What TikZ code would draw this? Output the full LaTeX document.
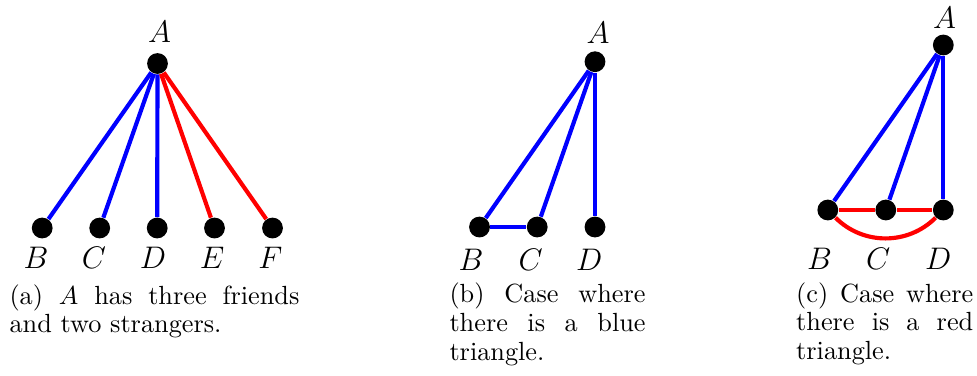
\documentclass[tikz,border=0pt]{standalone}
\hyphenpenalty=10000
\exhyphenpenalty=10000
\tikzset{
  vertex/.style={circle, fill=black, inner sep=0pt, minimum size=8pt},
  blueedge/.style={blue, ultra thick},
  rededge/.style={red, ultra thick},
  vname/.style={anchor=base, inner sep=0pt, font=\large},
  subcap/.style={anchor=base west, inner sep=0pt, align=justify, font=\fontsize{10.1}{11.1}\selectfont}
}

\begin{document}
\begin{tikzpicture}[x=0.3846pt,y=0.3846pt]
\useasboundingbox (0,0) rectangle (977,375);
\node[vertex] (a-A) at (157.5,311.5) {};
\node[vertex] (a-B) at (42.2,147) {};
\node[vertex] (a-C) at (99.7,147) {};
\node[vertex] (a-D) at (157.2,147) {};
\node[vertex] (a-E) at (214.5,147) {};
\node[vertex] (a-F) at (272.5,147) {};
\draw[blueedge] (a-A) -- (a-B);
\draw[blueedge] (a-A) -- (a-C);
\draw[blueedge] (a-A) -- (a-D);
\draw[rededge] (a-A) -- (a-E);
\draw[rededge] (a-A) -- (a-F);
\node[vname] (a-lA) at (159.5,332.5) {$A$};
\node[vname] (a-lB) at (36,106.5) {$B$};
\node[vname] (a-lC) at (94,106.5) {$C$};
\node[vname] (a-lD) at (153,106.5) {$D$};
\node[vname] (a-lE) at (212,106.5) {$E$};
\node[vname] (a-lF) at (270.5,106.5) {$F$};
\node[subcap, text width=111.5pt] (a-cap) at (9,71) {(a) $A$ has three friends and two strangers.};

\node[vertex] (b-A) at (595,313.3) {};
\node[vertex] (b-B) at (479.5,148) {};
\node[vertex] (b-C) at (537.2,148) {};
\node[vertex] (b-D) at (595,148) {};
\draw[blueedge] (b-A) -- (b-B);
\draw[blueedge] (b-A) -- (b-C);
\draw[blueedge] (b-A) -- (b-D);
\draw[blueedge] (b-B) -- (b-C);
\node[vname] (b-lA) at (598,331.7) {$A$};
\node[vname] (b-lB) at (471,105) {$B$};
\node[vname] (b-lC) at (530.7,105) {$C$};
\node[vname] (b-lD) at (589.2,105) {$D$};
\node[subcap, text width=75.4pt] (b-cap) at (449,72.5) {(b) Case where there is a blue triangle.};

\node[vertex] (c-A) at (943.3,330) {};
\node[vertex] (c-B) at (827.8,165) {};
\node[vertex] (c-C) at (885.8,165) {};
\node[vertex] (c-D) at (943.3,165) {};
\draw[blueedge] (c-A) -- (c-B);
\draw[blueedge] (c-A) -- (c-C);
\draw[blueedge] (c-A) -- (c-D);
\draw[rededge] (c-B) -- (c-C);
\draw[rededge] (c-C) -- (c-D);
\draw[rededge] (c-B) to[bend right=45] (c-D);
\node[vname] (c-lA) at (944.5,346.5) {$A$};
\node[vname] (c-lB) at (819.5,105.5) {$B$};
\node[vname] (c-lC) at (878.2,105.5) {$C$};
\node[vname] (c-lD) at (938.2,105.5) {$D$};
\node[subcap, text width=68.1pt] (c-cap) at (795.7,73) {(c) Case where there is a red triangle.};
\end{tikzpicture}
\end{document}
